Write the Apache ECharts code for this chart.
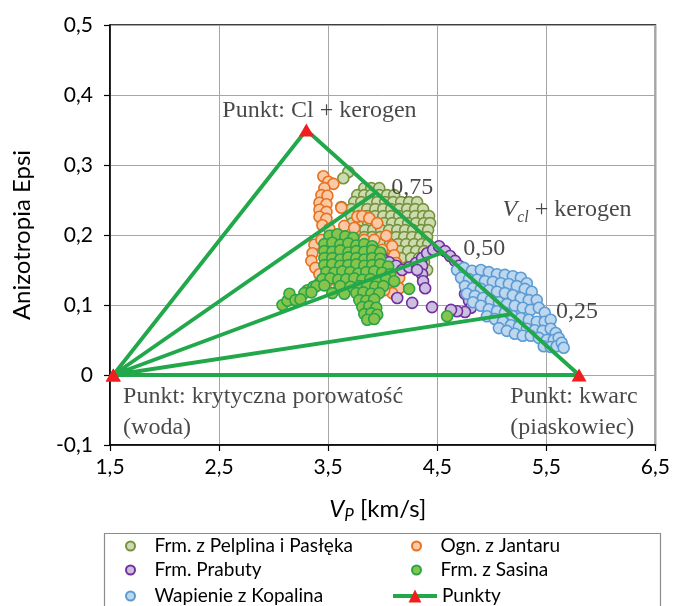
<!DOCTYPE html>
<html><head><meta charset="utf-8">
<script src="https://cdn.jsdelivr.net/npm/echarts@6/dist/echarts.min.js"></script>
<style>html,body{margin:0;padding:0;background:#fff}#c{width:673px;height:606px}</style>
</head><body><div id="c"></div>
<script>
// ---- series names ----
const nPelplina = 'Frm. z Pelplina i Pasłęka';
const nJantar = 'Ogn. z Jantaru';
const nPrabuty = 'Frm. Prabuty';
const nSasina = 'Frm. z Sasina';
const nKopalin = 'Wapienie z Kopalina';
const nPunkty = 'Punkty';

// ---- axis ticks ----
const xMin = 1.5, xMax = 6.5, xStep = 1;
const yMin = -0.1, yMax = 0.5, yStep = 0.1;

// ---- data: [Vp km/s, Epsi] ----
const pelplina = [
  [3.685,0.290],[3.639,0.281],[3.621,0.240],[4.379,0.161],[4.407,0.150],
  [3.831,0.267],[3.895,0.267],[3.968,0.267],
  [3.767,0.257],[3.831,0.257],[3.895,0.257],[3.968,0.257],[4.041,0.257],[4.105,0.257],
  [3.739,0.247],[3.803,0.247],[3.877,0.247],[3.950,0.247],[4.023,0.247],[4.096,0.247],[4.169,0.247],[4.242,0.247],[4.315,0.247],
  [3.712,0.237],[3.785,0.237],[3.858,0.237],[3.932,0.237],[4.005,0.237],[4.078,0.237],[4.151,0.237],[4.224,0.237],[4.297,0.237],[4.370,0.237],
  [3.712,0.227],[3.785,0.227],[3.858,0.227],[3.932,0.227],[4.005,0.227],[4.078,0.227],[4.151,0.227],[4.224,0.227],[4.297,0.227],[4.370,0.227],[4.425,0.227],
  [3.721,0.217],[3.794,0.217],[3.867,0.217],[3.941,0.217],[4.014,0.217],[4.087,0.217],[4.160,0.217],[4.233,0.217],[4.306,0.217],[4.379,0.217],[4.434,0.217],
  [3.767,0.207],[3.840,0.207],[3.913,0.207],[3.986,0.207],[4.059,0.207],[4.133,0.207],[4.206,0.207],[4.279,0.207],[4.352,0.207],[4.416,0.207],
  [3.831,0.197],[3.904,0.197],[3.977,0.197],[4.050,0.197],[4.123,0.197],[4.197,0.197],[4.270,0.197],[4.343,0.197],[4.407,0.197],
  [3.922,0.187],[3.995,0.187],[4.068,0.187],[4.142,0.187],[4.215,0.187],[4.288,0.187],[4.361,0.187],[4.416,0.187],
  [4.014,0.177],[4.087,0.177],[4.160,0.177],[4.233,0.177],[4.306,0.177],[4.379,0.177],
  [4.078,0.167],[4.169,0.167],[4.261,0.167],[4.334,0.167]
];
const jantar = [
  [3.456,0.284],[3.502,0.276],[3.548,0.273],[3.465,0.267],[3.438,0.257],[3.493,0.256],
  [3.420,0.246],[3.484,0.244],[3.420,0.236],[3.484,0.233],[3.420,0.226],[3.484,0.223],
  [3.447,0.214],[3.511,0.209],[3.621,0.239],[3.767,0.226],[3.813,0.227],[3.877,0.224],
  [3.950,0.217],[4.032,0.199],[4.087,0.184],[4.105,0.171],[4.123,0.160],[4.151,0.150],
  [4.151,0.139],[4.151,0.124],[4.087,0.117],[4.014,0.121],[3.968,0.129],[4.041,0.131],
  [3.374,0.186],[3.356,0.174],[3.346,0.163],[3.383,0.153],[3.420,0.144],[3.438,0.193],
  [3.529,0.199],[3.621,0.196],[3.676,0.189],[3.712,0.179],[3.648,0.213],[3.739,0.210],
  [3.584,0.179],[3.557,0.161],[3.648,0.153],[3.785,0.164],[3.895,0.171],[3.968,0.153],
  [3.877,0.139],[3.739,0.136],[3.602,0.129],[3.493,0.133],[3.831,0.193],[3.922,0.193],[3.995,0.179]
];
const prabuty = [
  [3.995,0.167],[4.059,0.161],[4.123,0.156],[4.178,0.150],[4.242,0.154],[4.306,0.160],
  [4.361,0.167],[4.407,0.174],[4.462,0.179],[4.516,0.184],[4.571,0.177],[4.617,0.170],
  [4.663,0.163],[4.699,0.156],[4.727,0.146],[4.745,0.136],[4.763,0.126],[4.754,0.116],
  [4.791,0.106],[4.809,0.096],[4.754,0.090],[4.681,0.091],[4.626,0.093],[4.452,0.097],
  [4.270,0.103],[4.133,0.110],[4.014,0.133],[4.361,0.156],[4.361,0.144],[4.370,0.134],
  [4.389,0.124],[4.315,0.150]
];
const sasina = [
  [3.081,0.100],[3.127,0.106],[3.145,0.116],[3.310,0.121],[3.365,0.126],[3.420,0.131],
  [3.511,0.199],[3.584,0.201],[3.657,0.198],[3.730,0.196],
  [3.465,0.187],[3.538,0.189],[3.611,0.186],[3.685,0.188],[3.758,0.185],[3.831,0.187],[3.904,0.184],
  [3.465,0.177],[3.538,0.176],[3.611,0.178],[3.685,0.175],[3.758,0.177],[3.831,0.176],[3.904,0.178],[3.977,0.175],
  [3.465,0.167],[3.538,0.167],[3.611,0.165],[3.685,0.168],[3.758,0.167],[3.831,0.165],[3.904,0.167],[3.977,0.166],
  [3.465,0.157],[3.538,0.158],[3.611,0.156],[3.685,0.157],[3.758,0.158],[3.831,0.156],[3.904,0.157],[3.977,0.158],[4.050,0.155],
  [3.484,0.147],[3.557,0.146],[3.630,0.148],[3.703,0.147],[3.776,0.145],[3.849,0.147],[3.922,0.148],[3.995,0.146],[4.068,0.144],
  [3.447,0.137],[3.520,0.138],[3.593,0.136],[3.666,0.137],[3.739,0.138],[3.813,0.136],[3.886,0.137],[3.959,0.135],[4.032,0.137],[4.105,0.134],
  [3.392,0.127],[3.465,0.128],[3.611,0.127],[3.703,0.126],[3.785,0.127],[3.858,0.128],[3.932,0.126],[4.005,0.127],
  [3.282,0.117],[3.346,0.118],[3.538,0.117],[3.648,0.116],[3.758,0.117],[3.822,0.118],[3.895,0.116],[3.968,0.117],
  [3.200,0.107],[3.246,0.108],[3.785,0.107],[3.849,0.106],[3.922,0.108],
  [3.813,0.097],[3.877,0.098],[3.941,0.096],
  [3.831,0.087],[3.895,0.088],[3.950,0.086],
  [3.858,0.079],[3.922,0.080],
  [4.242,0.123],[4.590,0.084]
];
const kopalin = [
  [4.681,0.150],[4.745,0.153],[4.818,0.149],[4.900,0.150],[4.973,0.147],[5.047,0.144],[5.120,0.143],[5.193,0.141],[5.266,0.139],[5.321,0.131],
  [4.718,0.139],[4.791,0.137],[4.864,0.136],[4.937,0.134],[5.010,0.133],[5.083,0.131],[5.156,0.130],[5.229,0.127],[5.303,0.123],[5.366,0.119],
  [4.754,0.127],[4.827,0.124],[4.900,0.123],[4.973,0.121],[5.047,0.119],[5.120,0.117],[5.193,0.114],[5.266,0.110],[5.339,0.107],[5.412,0.107],
  [4.772,0.116],[4.845,0.113],[4.919,0.110],[4.992,0.107],[5.065,0.104],[5.138,0.101],[5.211,0.099],[5.284,0.096],[5.357,0.093],[5.431,0.096],[5.485,0.089],
  [4.827,0.104],[4.900,0.099],[4.973,0.094],[5.047,0.091],[5.120,0.089],[5.193,0.084],[5.266,0.081],[5.339,0.079],[5.412,0.076],[5.485,0.076],[5.540,0.079],
  [4.955,0.084],[5.028,0.080],[5.101,0.076],[5.175,0.071],[5.248,0.069],[5.321,0.066],[5.394,0.064],[5.467,0.063],[5.540,0.066],[5.586,0.060],
  [5.065,0.067],[5.138,0.063],[5.211,0.059],[5.284,0.056],[5.357,0.056],[5.431,0.053],[5.504,0.050],[5.568,0.050],[5.613,0.053],
  [5.476,0.041],[5.540,0.040],[5.595,0.041],[5.641,0.046],[5.659,0.039]
];
// end-members: critical porosity, Cl + kerogen, quartz (closed triangle)
const pointCrit = [1.53, 0];
const pointCl = [3.30, 0.35];
const pointKwarc = [5.80, 0];
// mixing-line end points on the Cl–kwarc edge
const mixEnds = [[3.95, 0.262], [4.55, 0.175], [5.18, 0.087]];
const mixLabels = ['0,75', '0,50', '0,25'];

// ---- annotation texts (anchored in data units) ----
const annotations = [
  {text: 'Punkt: Cl + kerogen', at: [3.42, 0.377], align: 'center'},
  {text: mixLabels[0], at: [4.27, 0.267], align: 'center'},
  {text: mixLabels[1], at: [4.93, 0.181], align: 'center'},
  {text: mixLabels[2], at: [5.78, 0.091], align: 'center'},
  {text: '{v|V}{s|cl}{n| + kerogen}', at: [5.69, 0.236], align: 'center'},
  {text: 'Punkt: krytyczna porowatość\n(woda)', at: [1.62, -0.053], align: 'left'},
  {text: 'Punkt: kwarc\n(piaskowiec)', at: [5.17, -0.053], align: 'left'}
];

const GREEN = '#21a84a';
const SERIF = '"Liberation Serif", "Times New Roman", serif';
const SANS = 'Lato, "Liberation Sans", sans-serif';
const TXT = '#1a1a1a';
const fmt = v => Math.abs(v) < 1e-9 ? '0' : (Math.round(v * 10) / 10).toFixed(1).replace('.', ',');

function scatter(name, data, fill, border) {
  return {
    name, type: 'scatter', data, symbol: 'circle', symbolSize: 11,
    itemStyle: {color: fill, borderColor: border, borderWidth: 1.6, opacity: 1},
    emphasis: {disabled: true}, silent: true
  };
}

const radial = [];
mixEnds.forEach(p => { radial.push(pointCrit, p); });

const chart = echarts.init(document.getElementById('c'), null, {renderer: 'canvas'});

function legendItem(name, left, top, itemWidth, itemHeight, icon) {
  return {
    data: [icon ? {name, icon} : {name}], left, top, orient: 'horizontal',
    padding: 0, itemWidth, itemHeight, selectedMode: false,
    lineStyle: {width: 4},
    textStyle: {fontFamily: SANS, fontSize: 19, color: '#000', lineHeight: 22}
  };
}

chart.setOption({
  animation: false,
  backgroundColor: '#fff',
  grid: {left: 110, right: 16, top: 25, bottom: 161, show: true, borderColor: '#000', borderWidth: 1.5, containLabel: false},
  xAxis: {
    type: 'value', min: xMin, max: xMax, interval: xStep,
    axisLine: {onZero: false, lineStyle: {color: '#000', width: 1.5}},
    axisTick: {show: true, length: 6, lineStyle: {color: '#000', width: 1.2}},
    splitLine: {show: true, lineStyle: {color: '#a6a6a6', width: 1}},
    axisLabel: {fontFamily: SANS, fontSize: 21, color: '#000', margin: 12, formatter: fmt},
    name: '{v|V}{s|P}{n| [km/s]}', nameLocation: 'middle', nameGap: 50,
    nameTextStyle: {
      rich: {
        v: {fontFamily: SANS, fontSize: 24, fontStyle: 'italic', color: '#000'},
        s: {fontFamily: SANS, fontSize: 17, fontStyle: 'italic', color: '#000', verticalAlign: 'bottom', padding: [12, 0, 0, 0]},
        n: {fontFamily: SANS, fontSize: 24, color: '#000', padding: [0, 10, 0, 0]}
      }
    }
  },
  yAxis: {
    type: 'value', min: yMin, max: yMax, interval: yStep,
    axisLine: {onZero: false, lineStyle: {color: '#000', width: 1.5}},
    axisTick: {show: true, length: 6, lineStyle: {color: '#000', width: 1.2}},
    splitLine: {show: true, lineStyle: {color: '#a6a6a6', width: 1}},
    axisLabel: {fontFamily: SANS, fontSize: 21, color: '#000', margin: 17, formatter: fmt},
    name: 'Anizotropia Epsi', nameLocation: 'middle', nameGap: 76,
    nameTextStyle: {fontFamily: SANS, fontSize: 24, color: '#000'}
  },
  legend: [
    legendItem(nPelplina, 125, 535, 38, 9, 'circle'),
    legendItem(nPrabuty, 125, 559, 38, 9, 'circle'),
    legendItem(nKopalin, 125, 585, 38, 9, 'circle'),
    legendItem(nJantar, 411, 535, 38, 9, 'circle'),
    legendItem(nSasina, 411, 559, 38, 9, 'circle'),
    legendItem(nPunkty, 391, 585, 44, 16)
  ],
  graphic: [{
    type: 'rect', z: 0, silent: true,
    shape: {x: 104.5, y: 533.5, width: 556, height: 90},
    style: {fill: 'none', stroke: '#8c8c8c', lineWidth: 1.2}
  }],
  series: [
    scatter(nPelplina, pelplina, '#cddcb0', '#76923c'),
    scatter(nJantar, jantar, '#fbc9a6', '#e8711f'),
    scatter(nPrabuty, prabuty, '#cdbfe0', '#7030a0'),
    scatter(nSasina, sasina, '#86c44c', '#2aa448'),
    scatter(nKopalin, kopalin, '#bdd7ee', '#5b9bd5'),
    {
      name: 'mix', type: 'line', data: radial, symbol: 'none', silent: true,
      lineStyle: {color: GREEN, width: 3.8}, z: 3
    },
    {
      name: nPunkty, type: 'line', data: [pointCrit, pointCl, pointKwarc, pointCrit],
      symbol: 'triangle', symbolSize: [15, 13], showSymbol: true, silent: true,
      lineStyle: {color: GREEN, width: 3.8}, itemStyle: {color: '#f01e1e'}, z: 4
    },
    {
      name: 'labels', type: 'scatter', symbolSize: 0, silent: true, z: 5,
      data: annotations.map(a => ({
        value: a.at,
        label: {
          show: true, position: 'inside', formatter: a.text, align: a.align, verticalAlign: 'middle',
          fontFamily: SERIF, fontSize: 24, color: TXT, lineHeight: 31,
          rich: {
            v: {fontFamily: SERIF, fontSize: 24, fontStyle: 'italic', color: TXT},
            s: {fontFamily: SERIF, fontSize: 16, fontStyle: 'italic', color: TXT, verticalAlign: 'bottom', padding: [13, 0, 0, 0]},
            n: {fontFamily: SERIF, fontSize: 24, color: TXT}
          }
        }
      }))
    }
  ]
});
</script>
</body></html>
